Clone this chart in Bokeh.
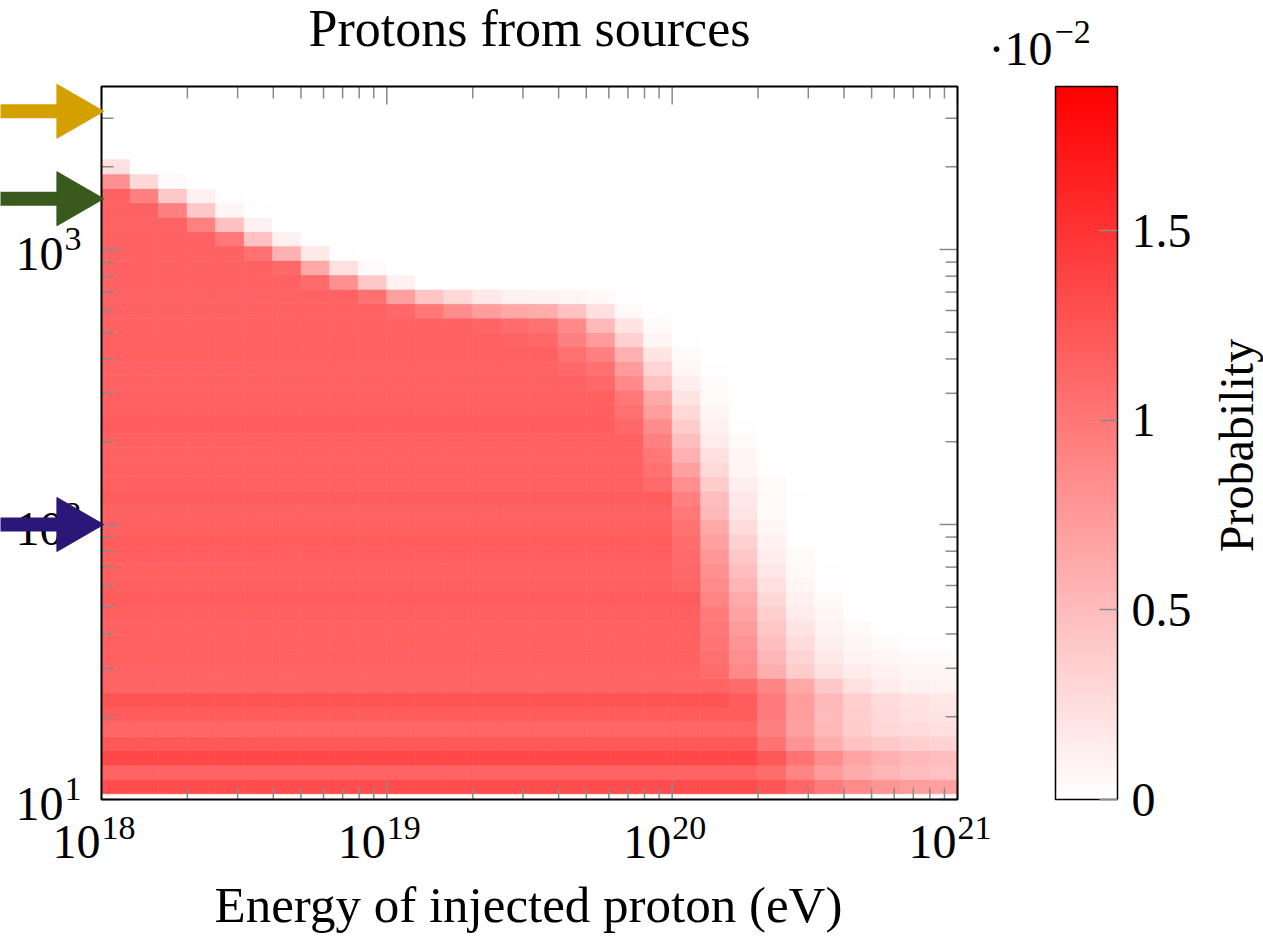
import numpy as np
from bokeh.plotting import figure
from bokeh.models import (LinearColorMapper, ColorBar, FixedTicker,
                          CustomJSTickFormatter, Label, ColumnDataSource, Range1d)
from bokeh.core.properties import value
from bokeh.transform import transform
from bokeh.embed import file_html
from bokeh.resources import INLINE

# ---------------- data ----------------
# log10 of energy bin edges (eV) and of distance bin edges
energy_log_edges = np.linspace(18.0, 21.0, 31)
dist_log_edges = np.linspace(1.0207, 3.327, 45)

# probability (x 1e-2), row by row from lowest distance bin upwards:
# plateau value, number of plateau columns, then the fading tail
row_base = [1.32, 1.15, 1.35, 1.23, 1.13, 1.20, 1.26, 1.15, 1.15, 1.17,
            1.17, 1.16, 1.18, 1.19, 1.18, 1.17, 1.18, 1.20, 1.17, 1.16,
            1.20, 1.17, 1.17, 1.16, 1.17, 1.19, 1.18, 1.17, 1.16, 1.16,
            1.17, 1.17, 1.16, 1.16, 1.16, 1.16, 1.16, 1.16, 1.16, 1.16,
            1.16, 1.16, 0.82, 0.23]
row_nfull = [23, 23, 23, 23, 23, 23, 22, 22, 21, 21,
             21, 21, 21, 21, 20, 20, 20, 20, 20, 20,
             20, 19, 19, 19, 19, 18, 18, 18, 17, 16,
             16, 14, 13, 10, 9, 7, 6, 5, 4, 3,
             2, 1, 1, 1]
row_tail = [
    [1.25, 1.12, 0.98, 0.86, 0.78, 0.72, 0.70],
    [1.08, 0.91, 0.74, 0.61, 0.54, 0.49, 0.46],
    [1.23, 1.03, 0.84, 0.68, 0.59, 0.52, 0.49],
    [1.03, 0.79, 0.60, 0.46, 0.41, 0.36, 0.33],
    [0.94, 0.70, 0.52, 0.38, 0.30, 0.27, 0.24],
    [0.97, 0.72, 0.50, 0.37, 0.28, 0.23, 0.20],
    [1.19, 0.98, 0.73, 0.52, 0.36, 0.26, 0.21, 0.18],
    [1.10, 0.91, 0.64, 0.41, 0.23, 0.15, 0.11, 0.10],
    [1.08, 0.88, 0.60, 0.38, 0.23, 0.15, 0.11, 0.08, 0.07],
    [1.05, 0.83, 0.54, 0.32, 0.17, 0.10, 0.07, 0.05, 0.04],
    [1.02, 0.79, 0.48, 0.26, 0.13, 0.07, 0.04, 0.02, 0.01],
    [1.00, 0.74, 0.42, 0.20, 0.10, 0.04, 0.01],
    [0.97, 0.69, 0.36, 0.15, 0.07, 0.02],
    [0.91, 0.63, 0.30, 0.11, 0.04, 0.01],
    [1.13, 0.86, 0.55, 0.24, 0.08, 0.02],
    [1.11, 0.82, 0.48, 0.18, 0.05, 0.01],
    [1.10, 0.77, 0.41, 0.14, 0.04],
    [1.08, 0.70, 0.35, 0.11, 0.02],
    [1.04, 0.64, 0.27, 0.07, 0.01],
    [1.00, 0.52, 0.20, 0.04],
    [0.94, 0.49, 0.17, 0.05, 0.01],
    [1.10, 0.82, 0.38, 0.13, 0.04],
    [1.05, 0.70, 0.29, 0.08, 0.02],
    [1.00, 0.58, 0.23, 0.07, 0.01],
    [0.94, 0.49, 0.15, 0.04],
    [1.11, 0.85, 0.38, 0.11, 0.01],
    [1.05, 0.73, 0.29, 0.07],
    [1.00, 0.64, 0.20, 0.04],
    [1.11, 0.88, 0.46, 0.13, 0.04],
    [1.11, 1.05, 0.74, 0.32, 0.07, 0.01],
    [1.05, 0.94, 0.58, 0.20, 0.04],
    [1.14, 1.11, 0.94, 0.74, 0.35, 0.08, 0.01],
    [1.14, 1.08, 1.04, 0.88, 0.52, 0.20, 0.04],
    [1.11, 1.00, 0.85, 0.73, 0.64, 0.61, 0.46, 0.23, 0.05, 0.01],
    [1.05, 0.70, 0.43, 0.29, 0.17, 0.11, 0.10, 0.08, 0.05, 0.02],
    [1.10, 0.82, 0.41, 0.11],
    [1.11, 0.64, 0.23, 0.04],
    [1.05, 0.58, 0.17, 0.02],
    [1.00, 0.46, 0.11, 0.02],
    [0.94, 0.46, 0.11],
    [0.94, 0.41, 0.08, 0.01],
    [0.94, 0.41, 0.11, 0.02],
    [0.29, 0.04],
    [],
]

# distances marked by arrows
arrow_dist = [3180.0, 1530.0, 100.0]
arrow_colors = ["#d4a000", "#3a591d", "#2b1777"]

x_major = [1e18, 1e19, 1e20, 1e21]
x_exp_labels = ["18", "19", "20", "21"]
y_major = [1e1, 1e2, 1e3]
y_exp_labels = ["1", "2", "3"]
x_minor = [k * 10.0 ** n for n in range(18, 21) for k in range(2, 10)]
y_minor = [k * 10.0 ** n for n in range(1, 4) for k in range(2, 10)
           if k * 10.0 ** n < 3900]
cbar_ticks = [0, 0.5, 1, 1.5]
prob_max = 1.88

# ---------------- table ----------------
n_cols = len(energy_log_edges) - 1
left, right, bottom, top, val = [], [], [], [], []
for r in range(len(row_base)):
    row = [row_base[r]] * row_nfull[r] + list(row_tail[r])
    row = row + [0.0] * (n_cols - len(row))
    for c in range(n_cols):
        left.append(10 ** energy_log_edges[c])
        right.append(10 ** energy_log_edges[c + 1])
        bottom.append(10 ** dist_log_edges[r])
        top.append(10 ** dist_log_edges[r + 1])
        val.append(row[c])
src = ColumnDataSource(dict(left=left, right=right, bottom=bottom, top=top, v=val))

palette = ["#ff%02x%02x" % (g, g) for g in np.linspace(255, 0, 256).round().astype(int)]
mapper = LinearColorMapper(palette=palette, low=0, high=prob_max)

# ---------------- geometry (pixels of the 1263x937 page) ----------------
W, H = 1263, 937
FL, FR, FT, FB = 101, 957, 86, 799        # axes box
LX0, LX1 = 18.0, 21.0
LY0 = 1.0
LY1 = LY0 + (FB - FT) / 275.0

def px_x(px):
    return 10 ** (LX0 + (px - FL) / (FR - FL) * (LX1 - LX0))

def px_y(py):
    return 10 ** (LY0 + (FB - py) / (FB - FT) * (LY1 - LY0))

X0, X1 = 10 ** LX0, 10 ** LX1
Y0, Y1 = 10 ** LY0, 10 ** LY1

p = figure(width=W, height=H, x_axis_type="log", y_axis_type="log",
           x_axis_location=None, y_axis_location=None, title=None,
           x_range=Range1d(px_x(0), px_x(W)), y_range=Range1d(px_y(H), px_y(0)),
           output_backend="svg", toolbar_location=None, min_border=0)
p.grid.visible = False
p.outline_line_color = None
p.background_fill_color = "white"
p.border_fill_color = "white"

# heatmap
p.quad(left="left", right="right", bottom="bottom", top="top", source=src,
       fill_color=transform("v", mapper), line_color=transform("v", mapper),
       line_width=0.6)

# ticks (inside the box, on all four sides)
TC, TW = "#8a8a8a", 1.5
for xs, ln in ((x_major, 18), (x_minor, 12)):
    p.ray(x=xs, y=[Y0] * len(xs), length=ln, length_units="screen",
          angle=np.pi / 2, line_color=TC, line_width=TW)
    p.ray(x=xs, y=[Y1] * len(xs), length=ln, length_units="screen",
          angle=-np.pi / 2, line_color=TC, line_width=TW)
for ys, ln in ((y_major, 18), (y_minor, 12)):
    p.ray(x=[X0] * len(ys), y=ys, length=ln, length_units="screen",
          angle=0, line_color=TC, line_width=TW)
    p.ray(x=[X1] * len(ys), y=ys, length=ln, length_units="screen",
          angle=np.pi, line_color=TC, line_width=TW)

# axes box
p.quad(left=[X0], right=[X1], bottom=[Y0], top=[Y1], fill_color=None,
       line_color="black", line_width=2)

FONT = value("Liberation Serif")
BIG, SMALL = "48px", "34px"

# tick labels: 10 with raised exponent
p.text(x=x_major, y=[Y0] * 4, text=["10"] * 4, text_font=FONT, text_font_size=BIG,
       text_align="right", text_baseline="middle", x_offset=-1, y_offset=42,
       text_color="black")
p.text(x=x_major, y=[Y0] * 4, text=x_exp_labels, text_font=FONT, text_font_size=SMALL,
       text_align="left", text_baseline="middle", x_offset=0, y_offset=28,
       text_color="black")
p.text(x=[X0] * 3, y=y_major, text=["10"] * 3, text_font=FONT, text_font_size=BIG,
       text_align="right", text_baseline="middle", x_offset=-38, y_offset=4,
       text_color="black")
p.text(x=[X0] * 3, y=y_major, text=y_exp_labels, text_font=FONT, text_font_size=SMALL,
       text_align="left", text_baseline="middle", x_offset=-37, y_offset=-11,
       text_color="black")

# arrows marking distances
p.segment(x0=[px_x(-10)] * 3, y0=arrow_dist, x1=[px_x(75)] * 3, y1=arrow_dist,
          line_color=arrow_colors, line_width=14)
p.scatter(x=[px_x(72)] * 3, y=arrow_dist, marker="triangle", size=54,
          angle=-np.pi / 2, fill_color=arrow_colors, line_color=arrow_colors,
          line_width=1)

# colour bar
cb = ColorBar(color_mapper=mapper, location=(1055, H - FB), width=62,
              height=FB - FT, padding=0, margin=0,
              ticker=FixedTicker(ticks=cbar_ticks),
              formatter=CustomJSTickFormatter(code="return tick.toString()"),
              major_label_text_font="Liberation Serif", major_label_text_font_size=BIG,
              major_label_text_color="black",
              label_standoff=14, major_tick_in=18, major_tick_out=0,
              major_tick_line_color=TC, major_tick_line_width=TW,
              bar_line_color="black", bar_line_width=1.5,
              background_fill_alpha=0, border_line_color=None)
p.add_layout(cb, "center")
# matching ticks on the left edge of the colour bar
cb_tick_px = [FB - t / prob_max * (FB - FT) for t in cbar_ticks[1:]]
p.ray(x=[px_x(1055)] * len(cb_tick_px), y=[px_y(v) for v in cb_tick_px],
      length=18, length_units="screen", angle=0, line_color=TC, line_width=TW)

# texts (label baselines sit ~17 px lower than their anchor, so anchors are raised)
def add_text(px, py, txt, size, align="left", baseline="alphabetic", angle=0.0):
    p.add_layout(Label(x=px_x(px), y=px_y(py), text=txt, angle=angle,
                       text_font="Liberation Serif", text_font_size=size,
                       text_color="black", text_align=align, text_baseline=baseline))

add_text(529, 28, "Protons from sources", "52px", align="center")
add_text(528, 904, "Energy of injected proton (eV)", "51px", align="center")
add_text(1052, 48, "\u00b710", BIG, align="right")
add_text(1054, 31, "\u22122", SMALL, align="left")
add_text(1236, 445, "Probability", "48px", align="center", baseline="middle",
         angle=np.pi / 2)

open("out.html", "w", encoding="utf-8").write(file_html(p, INLINE))
